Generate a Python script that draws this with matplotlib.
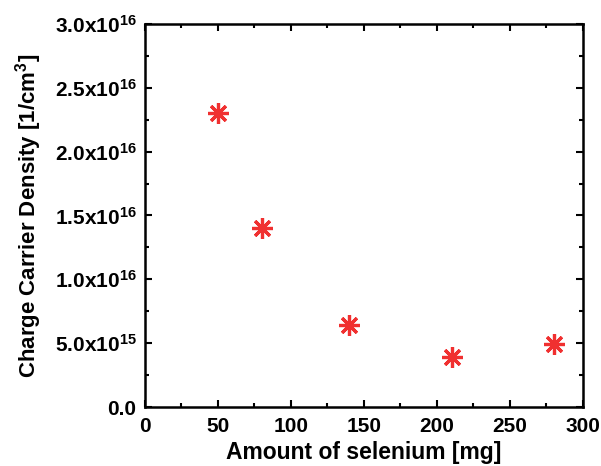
import matplotlib
matplotlib.use("Agg")
import matplotlib.pyplot as plt
from matplotlib.ticker import MultipleLocator

selenium_mg = [50, 80, 140, 210, 280]
carrier_density = [2.30e16, 1.40e16, 6.4e15, 3.9e15, 4.9e15]
y_ticks = [0.0, 5.0e15, 1.0e16, 1.5e16, 2.0e16, 2.5e16, 3.0e16]
y_tick_labels = ["0.0", r"5.0x10$^{15}$", r"1.0x10$^{16}$", r"1.5x10$^{16}$",
                 r"2.0x10$^{16}$", r"2.5x10$^{16}$", r"3.0x10$^{16}$"]
x_ticks = [0, 50, 100, 150, 200, 250, 300]

plt.rcParams['font.family'] = ['Liberation Sans', 'DejaVu Sans']
plt.rcParams['font.weight'] = 'bold'
plt.rcParams['mathtext.fontset'] = 'custom'
plt.rcParams['mathtext.rm'] = 'Liberation Sans:bold'
plt.rcParams['mathtext.bf'] = 'Liberation Sans:bold'
plt.rcParams['mathtext.it'] = 'Liberation Sans:bold'
plt.rcParams['mathtext.default'] = 'bf'

fig = plt.figure(figsize=(6.01, 4.66), dpi=100)
ax = fig.add_axes([0.241, 0.1266, 0.729, 0.822])

ax.plot(selenium_mg, carrier_density, linestyle='none', marker=(8, 2, 0),
        markersize=15, markeredgewidth=2.3, color='#f03030')

ax.set_xlim(0, 300)
ax.set_ylim(0, 3.0e16)
ax.set_xticks(x_ticks)
ax.set_yticks(y_ticks)
ax.set_yticklabels(y_tick_labels)
ax.xaxis.set_minor_locator(MultipleLocator(25))
ax.yaxis.set_minor_locator(MultipleLocator(2.5e15))

ax.tick_params(which='both', direction='in', top=True, right=True, width=1.5,
               labelsize=15)
ax.tick_params(which='major', length=5)
ax.tick_params(which='minor', length=3)
ax.tick_params(axis='x', pad=7)
ax.tick_params(axis='y', pad=6)
for s in ax.spines.values():
    s.set_linewidth(1.8)
for lbl in ax.get_xticklabels() + ax.get_yticklabels():
    lbl.set_fontweight('bold')

ax.set_xlabel('Amount of selenium [mg]', fontsize=16.5, fontweight='bold', labelpad=4)
ax.set_ylabel(r'Charge Carrier Density [1/cm$^3$]', fontsize=16, fontweight='bold', labelpad=8)

fig.savefig('out.png', dpi=100)
